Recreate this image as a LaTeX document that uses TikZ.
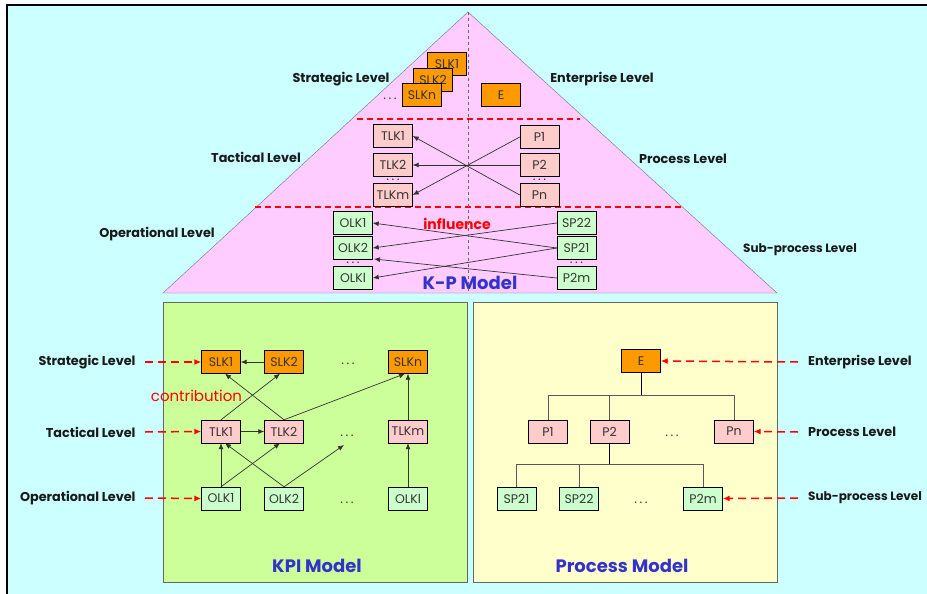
\documentclass[tikz,border=0pt]{standalone}
\usepackage{fontspec}
\setmainfont{Poppins}
\usepackage{tikz}
\usetikzlibrary{arrows,arrows.meta,positioning}
\definecolor{skyback}{HTML}{CCFFFF}
\definecolor{pyrfill}{HTML}{FFCCFF}
\definecolor{kpifill}{HTML}{CCFF99}
\definecolor{procfill}{HTML}{FFFFCC}
\definecolor{orangebox}{HTML}{FF9900}
\definecolor{pinkbox}{HTML}{FFCCCC}
\definecolor{greenbox}{HTML}{CCFFCC}
\definecolor{modelblue}{HTML}{3333CC}
\definecolor{boxtext}{HTML}{333333}
\newcommand{\kdots}{.\hspace{2.5pt}.\hspace{2.5pt}.}

\begin{document}
\begin{tikzpicture}[x=1pt,y=-1pt,>={Latex[length=6pt,width=5pt]},
	kbox/.style={draw=black,minimum width=39pt,minimum height=23pt,inner sep=0pt,text=boxtext,font=\fontsize{12.5}{13}\selectfont},
	slk/.style={kbox,fill=orangebox},
	tlk/.style={kbox,fill=pinkbox},
	olk/.style={kbox,fill=greenbox},
	lvl/.style={font=\bfseries\fontsize{12.8}{14}\selectfont,text=black!90},
	dots/.style={text=boxtext,inner sep=0pt,font=\fontsize{13}{13}\selectfont},
	pointer/.style={-{Latex[length=7pt,width=6pt]},red,line width=1.5pt,dash pattern=on 8pt off 5pt},
	link/.style={->,black!80,line width=0.7pt},
	model/.style={font=\bfseries\fontsize{18}{20}\selectfont,text=modelblue}]
	  \useasboundingbox (0,0) rectangle (927,594);
	  % Draw the background
	  \fill[skyback] (7,5) rectangle (927,594);
	  \draw[line width=1.5pt] (7,594) -- (7,5) -- (927,5);
	  % Draw the K-P pyramid
	  \fill[pyrfill] (468,12) -- (777,293) -- (163,293) -- cycle;
	  \draw[black!55] (468,12) -- (777,293) -- (163,293) -- cycle;
	  \draw[red,line width=1.5pt,dash pattern=on 6pt off 4pt] (357,119) -- (580,119);
	  \draw[red,line width=1.5pt,dash pattern=on 6pt off 4pt] (255,207) -- (683,207);
	  % Levels of the pyramid
	  \node[lvl] (tstrat) at (341,79) {Strategic Level};
	  \node[lvl] (tent) at (602,79) {Enterprise Level};
	  \node[lvl] (ttact) at (256,157) {Tactical Level};
	  \node[lvl] (tproc) at (683,159) {Process Level};
	  \node[lvl] (toper) at (157,234) {Operational Level};
	  \node[lvl,font=\bfseries\fontsize{12}{14}\selectfont] (tsub) at (800,250) {Sub-process Level};
	  % Boxes of the pyramid
	  \node[dots] (tsdots) at (390,99) {\kdots};
	  \node[slk] (SLK1t) at (447,64) {SLK1};
	  \node[slk] (SLK2t) at (433,80) {SLK2};
	  \node[slk] (SLKnt) at (422,95) {SLKn};
	  \node[slk] (Et) at (501,95) {E};
	  \node[tlk] (TLK1t) at (393,136) {TLK1};
	  \node[tlk] (TLK2t) at (393,165) {TLK2};
	  \node[tlk] (TLKmt) at (393,195) {TLKm};
	  \node[dots] (ttdots) at (393,180) {\kdots};
	  \node[tlk] (P1t) at (539.5,137) {P1};
	  \node[tlk] (P2t) at (539.5,165) {P2};
	  \node[tlk] (Pnt) at (539.5,195) {Pn};
	  \node[dots] (tpdots) at (539.5,180) {\kdots};
	  \node[olk] (OLK1t) at (353,223) {OLK1};
	  \node[olk] (OLK2t) at (353,248) {OLK2};
	  \node[olk] (OLKlt) at (353,278) {OLKl};
	  \node[dots] (todots) at (353,263) {\kdots};
	  \node[olk] (SP22t) at (576.5,223) {SP22};
	  \node[olk] (SP21t) at (576.5,248) {SP21};
	  \node[olk] (P2mt) at (576.5,278) {P2m};
	  \node[dots] (tspdots) at (576.5,263) {\kdots};
	  \coordinate (olkgap) at (374,259);
	  % Draw the influence links
	  \draw[link] (P1t.west) -- (TLKmt.east);
	  \draw[link] (P2t.west) -- (TLK2t.east);
	  \draw[link] (Pnt.west) -- (TLK1t.east);
	  \draw[link] (SP22t.west) -- (OLK2t.east);
	  \draw[link] (SP21t.west) -- (OLK1t.east);
	  \draw[link] (SP21t.west) -- (OLKlt.east);
	  \draw[link] (P2mt.west) -- (olkgap);
	  \node[text=red,font=\bfseries\fontsize{14}{16}\selectfont] (infl) at (457,224) {influence};
	  \node[model] (kpmodel) at (470,283) {K-P Model};
	  \draw[black!60,dashed] (468,12) -- (468,293);
	  % Draw the KPI model
	  \filldraw[fill=kpifill,draw=black!60,thick] (163,302) rectangle (467,582);
	  \node[slk] (SLK1) at (221,362) {SLK1};
	  \node[slk] (SLK2) at (284,362) {SLK2};
	  \node[dots] (sdots) at (348,364) {\kdots};
	  \node[slk] (SLKn) at (408,362) {SLKn};
	  \node[tlk] (TLK1) at (221,431.5) {TLK1};
	  \node[tlk] (TLK2) at (284,431.5) {TLK2};
	  \node[dots] (tdots) at (347,436) {\kdots};
	  \node[tlk] (TLKm) at (408,431.5) {TLKm};
	  \node[olk] (OLK1) at (221,498.5) {OLK1};
	  \node[olk] (OLK2) at (284,498.5) {OLK2};
	  \node[dots] (odots) at (347,503) {\kdots};
	  \node[olk] (OLKl) at (408,498.5) {OLKl};
	  \coordinate (tgap) at (344,445);
	  \draw[link] (SLK2.west) -- (SLK1.east);
	  \draw[link] (TLK1.east) -- (TLK2.west);
	  \draw[link] (TLK1.north) -- ([xshift=-4pt]SLK2.south);
	  \draw[link] (TLK2.north) -- ([xshift=4pt]SLK1.south);
	  \draw[link] (TLK2.north) -- ([xshift=-3pt]SLKn.south);
	  \draw[link] (TLKm.north) -- (SLKn.south);
	  \draw[link] (OLK1.north) -- (TLK1.south);
	  \draw[link] (OLK1.north) -- ([xshift=-4pt]TLK2.south);
	  \draw[link] (OLK2.north) -- ([xshift=4pt]TLK1.south);
	  \draw[link] (OLK2.north) -- (tgap);
	  \draw[link] (OLKl.north) -- (TLKm.south);
	  \node[text=red,font=\fontsize{15}{17}\selectfont] (contrib) at (196.5,396) {contribution};
	  \node[model] (kpimodel) at (317,566) {KPI Model};
	  \node[lvl,anchor=east] (lstrat) at (139,362) {Strategic Level};
	  \node[lvl,anchor=east] (ltact) at (139,432) {Tactical Level};
	  \node[lvl,anchor=east] (loper) at (139,498) {Operational Level};
	  \draw[pointer] (lstrat.east) ++(6,0) -- (SLK1.west);
	  \draw[pointer] (ltact.east) ++(6,0) -- (TLK1.west);
	  \draw[pointer] (loper.east) ++(6,0) -- (OLK1.west);
	  % Draw the process model
	  \filldraw[fill=procfill,draw=black!60,thick] (473,302) rectangle (777,582);
	  \node[slk] (E) at (641,361) {E};
	  \node[tlk] (P1) at (548,431.5) {P1};
	  \node[tlk] (P2) at (609.5,431.5) {P2};
	  \node[dots] (pdots) at (672,436) {\kdots};
	  \node[tlk] (Pn) at (734,431.5) {Pn};
	  \node[olk] (SP21) at (516.5,498.5) {SP21};
	  \node[olk] (SP22) at (579,498.5) {SP22};
	  \node[dots] (spdots) at (641,503) {\kdots};
	  \node[olk] (P2m) at (703,498.5) {P2m};
	  \draw[thick] (E.south) -- ++(0,23) coordinate (ejoin);
	  \draw[black!65,thick] (P1.north) |- (ejoin) -| (Pn.north);
	  \draw[black!65,thick] (P2.north) -- (P2.north |- ejoin);
	  \draw[thick] (P2.south) -- ++(0,21) coordinate (pjoin);
	  \draw[black!65,thick] (SP21.north) |- (pjoin) -| (P2m.north);
	  \draw[black!65,thick] (SP22.north) -- (SP22.north |- pjoin);
	  \node[model] (procmodel) at (622,566) {Process Model};
	  \node[lvl,anchor=west,inner sep=0pt] (rent) at (808,362) {Enterprise Level};
	  \node[lvl,anchor=west,inner sep=0pt] (rproc) at (808,432) {Process Level};
	  \node[lvl,anchor=west,inner sep=0pt,font=\bfseries\fontsize{12}{14}\selectfont] (rsub) at (808,498) {Sub-process Level};
	  \draw[pointer] (rent.west) ++(-10,0) -- (E.east);
	  \draw[pointer] (rproc.west) ++(-10,0) -- (Pn.east);
	  \draw[pointer] (rsub.west) ++(-10,0) -- (P2m.east);
\end{tikzpicture}
\end{document}
